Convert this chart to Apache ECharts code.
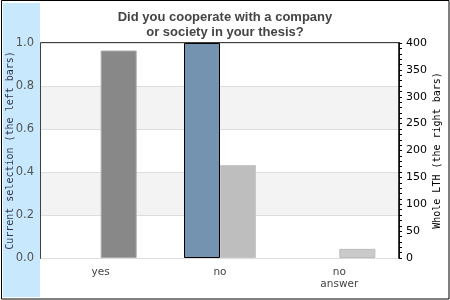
<!DOCTYPE html>
<html><head><meta charset="utf-8">
<script src="https://cdn.jsdelivr.net/npm/echarts@6/dist/echarts.min.js"></script>
<style>html,body{margin:0;padding:0;background:#fff}#c{width:450px;height:300px}</style>
</head><body><div id="c"></div>
<script>
var categories = ['yes', 'no', 'no\nanswer'];
var currentSelection = [0, 1.0, 0];
var wholeLTH = [386, 173, 17];
var leftTicks = [0, 0.2, 0.4, 0.6, 0.8, 1.0];
var rightTicks = [0, 50, 100, 150, 200, 250, 300, 350, 400];
var wholeColors = ['#888888', '#bebebe', '#cacaca'];
var wholeBorders = ['#aaaaaa', '#c8c8c8', '#bbbbbb'];

var chart = echarts.init(document.getElementById('c'), null, {renderer: 'canvas'});
chart.setOption({
  animation: false,
  backgroundColor: '#fff',
  graphic: [
    {type: 'rect', z: -10, shape: {x: 3, y: 3, width: 37, height: 294}, style: {fill: '#c8e8fd'}},
    {type: 'rect', z: 100, shape: {x: 1.5, y: 0.5, width: 447.5, height: 298.5}, style: {fill: 'none', stroke: '#000', lineWidth: 1}}
  ],
  title: {
    text: 'Did you cooperate with a company\nor society in your thesis?',
    left: 'center', top: 5,
    textStyle: {fontFamily: 'Liberation Sans', fontWeight: 'bold', fontSize: 13, color: '#444', lineHeight: 15}
  },
  grid: {left: 41, top: 43, right: 51, bottom: 42, outerBoundsMode: 'none', containLabel: false,
    show: true, borderColor: '#000', borderWidth: 1.5, backgroundColor: 'transparent'},
  xAxis: {
    type: 'category', data: categories,
    axisLine: {show: false}, axisTick: {show: false},
    axisLabel: {fontFamily: 'DejaVu Sans', fontSize: 10.5, color: '#444', margin: 8, lineHeight: 12}
  },
  yAxis: [
    {
      type: 'value', min: 0, max: 1, interval: 0.2,
      name: 'Current selection (the left bars)', nameLocation: 'middle', nameGap: 26, nameRotate: 90,
      nameMoveOverlap: false,
      nameTextStyle: {fontFamily: 'DejaVu Sans Mono', fontSize: 10, color: '#335'},
      axisLine: {show: false}, axisTick: {show: false},
      axisLabel: {fontFamily: 'DejaVu Sans', fontSize: 11.5, color: '#555', margin: 7,
        formatter: function (v) { return v.toFixed(1); }},
      splitLine: {show: true, lineStyle: {color: '#dddddd', width: 1}},
      splitArea: {show: true, areaStyle: {color: ['#ffffff', '#f3f3f3']}}
    },
    {
      type: 'value', min: 0, max: 400, interval: 50, position: 'right',
      name: 'Whole LTH (the right bars)', nameLocation: 'middle', nameGap: 33, nameRotate: 90,
      nameMoveOverlap: false,
      nameTextStyle: {fontFamily: 'DejaVu Sans Mono', fontSize: 10, color: '#000'},
      axisLine: {show: true, lineStyle: {color: '#000', width: 1.5}},
      axisTick: {show: true, length: 3, inside: false, lineStyle: {color: '#000'}},
      minorTick: {show: true, splitNumber: 5, length: 3, lineStyle: {color: '#000'}},
      axisLabel: {fontFamily: 'DejaVu Sans', fontSize: 11, color: '#000', margin: 7},
      splitLine: {show: false}
    }
  ],
  series: [
    {
      type: 'bar', name: 'current', yAxisIndex: 0, barWidth: 36, barGap: '0%',
      data: currentSelection.map(function (v) {
        return {value: v, itemStyle: {color: '#7393b0', borderColor: '#000', borderWidth: v > 0 ? 1 : 0}};
      })
    },
    {
      type: 'bar', name: 'whole', yAxisIndex: 1, barWidth: 36, barGap: '0%',
      data: wholeLTH.map(function (v, i) {
        return {value: v, itemStyle: {color: wholeColors[i], borderColor: wholeBorders[i], borderWidth: 1}};
      })
    }
  ]
});
</script></body></html>
